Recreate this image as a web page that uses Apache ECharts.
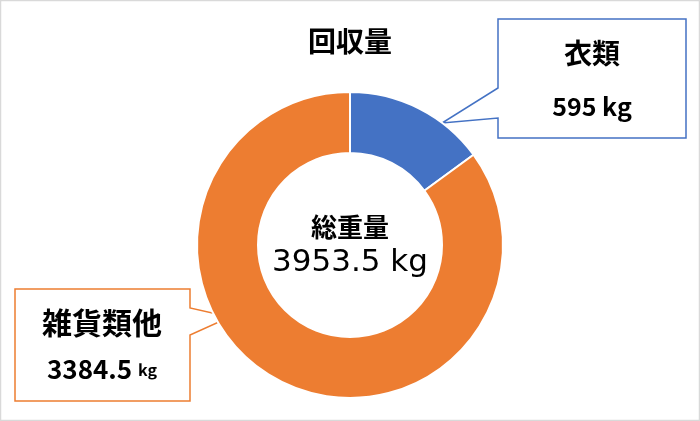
<!DOCTYPE html>
<html>
<head>
<meta charset="utf-8">
<script src="https://cdn.jsdelivr.net/npm/echarts@6/dist/echarts.min.js"></script>
<style>
  html, body { margin: 0; padding: 0; background: #fff; }
  #chart { width: 700px; height: 421px; }
</style>
</head>
<body>
<div id="chart"></div>
<script>
  const categories = ["衣類", "雑貨類他"];
  const weights = [595, 3384.5];
  const colors = ["#4472C4", "#ED7D31"];
  const titleText = "回収量";
  const totalLabel = "総重量";
  const totalWeight = 3953.5;
  const unit = "kg";

  const font = "'Noto Sans CJK JP', 'Noto Sans', sans-serif";

  const chart = echarts.init(document.getElementById("chart"), null, { renderer: "canvas" });

  // callout anchor for each slice label (text centre)
  const labelPos = [
    { x: 592, y: 80 },
    { x: 102, y: 346 },
  ];

  chart.setOption({
    backgroundColor: "#fff",
    title: {
      text: titleText,
      left: "center",
      top: 22,
      textStyle: { fontFamily: font, fontSize: 28, fontWeight: "bold", color: "#000" },
    },
    graphic: [
      {
        type: "rect",
        shape: { x: 0.5, y: 0.5, width: 699, height: 420 },
        style: { fill: "none", stroke: "#d9d9d9", lineWidth: 1.5 },
        silent: true,
      },
      {
        type: "polygon",
        shape: { points: [[498, 19], [686, 19], [686, 138], [498, 138], [498, 118], [442, 123], [498, 88]] },
        style: { fill: "#fff", stroke: colors[0], lineWidth: 1.5 },
        silent: true,
        z: 0,
      },
      {
        type: "polygon",
        shape: { points: [[15, 289], [190, 289], [190, 308], [230, 317], [190, 335], [190, 401], [15, 401]] },
        style: { fill: "#fff", stroke: colors[1], lineWidth: 1.5 },
        silent: true,
        z: 0,
      },
      {
        type: "text",
        x: 350,
        y: 227,
        style: {
          text: totalLabel, font: "bold 26px " + font, fill: "#000",
          align: "center", verticalAlign: "middle",
        },
        z: 10,
      },
      {
        type: "text",
        x: 350,
        y: 263,
        style: {
          text: totalWeight + " " + unit, font: "31px 'DejaVu Sans', sans-serif", fill: "#000",
          align: "center", verticalAlign: "middle",
        },
        z: 10,
      },
    ],
    series: [
      {
        type: "pie",
        center: [350, 245],
        radius: [92, 153],
        startAngle: 90,
        clockwise: true,
        avoidLabelOverlap: false,
        z: 2,
        itemStyle: { borderColor: "#fff", borderWidth: 2 },
        emphasis: { disabled: true },
        labelLine: { show: false },
        label: {
          show: true,
          position: "outside",
          fontFamily: font,
          color: "#000",
          formatter: (p) =>
            p.dataIndex === 0
              ? "{n|" + p.name + "}\n{v|" + p.value + " " + unit + "}"
              : "{n2|" + p.name + "}\n{v2|" + p.value + " }{u|" + unit + "}",
          rich: {
            n: { fontFamily: font, fontSize: 28, fontWeight: "bold", lineHeight: 53, align: "center" },
            v: { fontFamily: font, fontSize: 25, fontWeight: "bold", lineHeight: 53 },
            n2: { fontFamily: font, fontSize: 30, fontWeight: "bold", lineHeight: 47, align: "center" },
            v2: { fontFamily: font, fontSize: 26, fontWeight: "bold", lineHeight: 47 },
            u: { fontFamily: font, fontSize: 16, fontWeight: "bold", lineHeight: 47 },
          },
        },
        labelLayout: (params) => ({
          x: labelPos[params.dataIndex].x,
          y: labelPos[params.dataIndex].y,
          align: "center",
          verticalAlign: "middle",
        }),
        data: categories.map((name, i) => ({
          name,
          value: weights[i],
          itemStyle: { color: colors[i] },
        })),
      },
    ],
  });
</script>
</body>
</html>
